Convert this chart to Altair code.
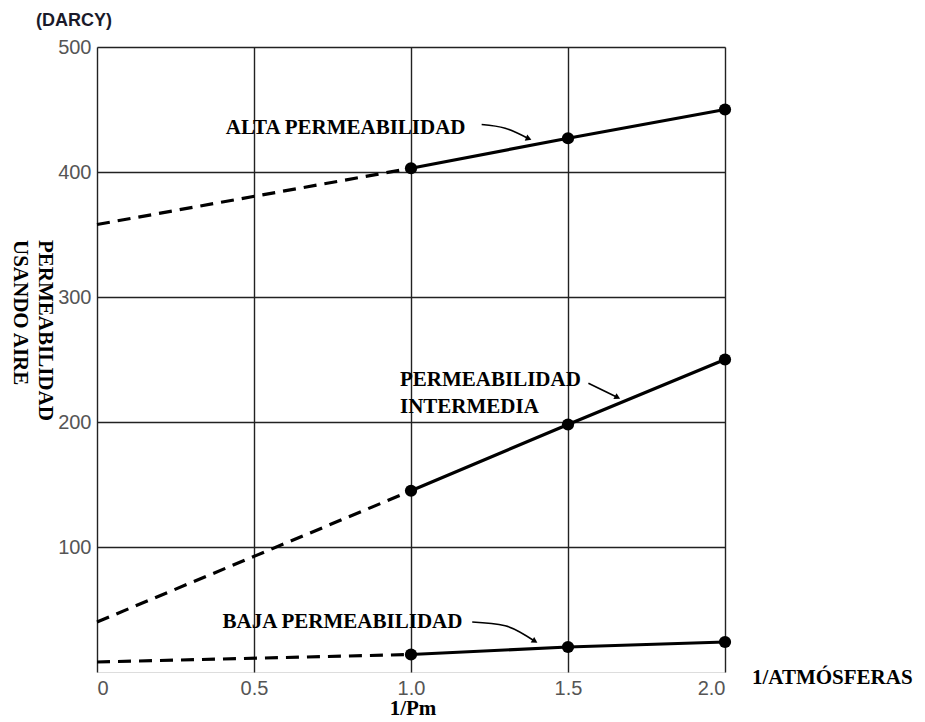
import altair as alt
import pandas as pd

# ---- data ----
x_vals = [0.0, 1.0, 1.5, 2.0]
alta = [358, 403, 427, 450]
intermedia = [40, 145, 198, 250]
baja = [8, 14, 20, 24]
series_names = ["ALTA", "INTERMEDIA", "BAJA"]

rows = []
for name, ys in zip(series_names, [alta, intermedia, baja]):
    # dashed extrapolation segment 0 -> 1.0
    rows.append({"series": name, "seg": "dash", "x": x_vals[0], "y": ys[0]})
    rows.append({"series": name, "seg": "dash", "x": x_vals[1], "y": ys[1]})
    for xv, yv in zip(x_vals[1:], ys[1:]):
        rows.append({"series": name, "seg": "solid", "x": xv, "y": yv})
df = pd.DataFrame(rows)
pts = df[df.seg == "solid"]

# annotation labels (data coordinates)
ann_text = ["ALTA PERMEABILIDAD", "PERMEABILIDAD", "INTERMEDIA", "BAJA PERMEABILIDAD"]
ann_x = [0.41, 0.965, 0.965, 0.40]
ann_y = [435, 234, 212, 40]
ann = pd.DataFrame({"t": ann_text, "x": ann_x, "y": ann_y})

# annotation arrows (data coordinates)
arr_id = ["a", "a", "a", "b", "b", "c", "c", "c"]
arr_x = [1.225, 1.30, 1.372, 1.565, 1.655, 1.195, 1.30, 1.392]
arr_y = [438, 435, 427, 231, 220, 40, 37, 25]
arr = pd.DataFrame({"id": arr_id, "x": arr_x, "y": arr_y, "o": list(range(len(arr_x)))})
head_x = [1.372, 1.655, 1.392]
head_y = [427, 220, 25]
head_angle = [112, 118, 122]
heads = pd.DataFrame({"x": head_x, "y": head_y, "a": head_angle})

tick_font = "Liberation Sans"
serif = "Liberation Serif"

xs = alt.Scale(domain=[0, 2], nice=False)
ys = alt.Scale(domain=[0, 500], nice=False)

x_axis = alt.Axis(values=[0, 0.5, 1.0, 1.5, 2.0], title=None,
                  labelExpr="datum.value == 0 ? '0' : format(datum.value, '.1f')",
                  labelFont=tick_font, labelFontSize=20, labelColor="#555",
                  labelPadding=6, ticks=False, domain=False,
                  gridColor="#222", gridWidth=1.4, gridOpacity=1)
y_axis = alt.Axis(values=[100, 200, 300, 400, 500], title=None,
                  labelFont=tick_font, labelFontSize=20, labelColor="#555",
                  labelPadding=6, ticks=False, domain=False,
                  gridColor="#222", gridWidth=1.4, gridOpacity=1)

base = alt.Chart(df)

grid = alt.Chart(df).mark_point(opacity=0).encode(
    x=alt.X("x:Q", scale=xs, axis=x_axis),
    y=alt.Y("y:Q", scale=ys, axis=y_axis),
)

dashed = base.transform_filter(alt.datum.seg == "dash").mark_line(
    color="black", strokeWidth=3.2, strokeDash=[13, 8]
).encode(x=alt.X("x:Q", scale=xs), y=alt.Y("y:Q", scale=ys), detail="series:N")

solid = base.transform_filter(alt.datum.seg == "solid").mark_line(
    color="black", strokeWidth=3.2
).encode(x=alt.X("x:Q", scale=xs), y=alt.Y("y:Q", scale=ys), detail="series:N")

dots = alt.Chart(pts).mark_circle(color="black", size=150, opacity=1).encode(
    x=alt.X("x:Q", scale=xs), y=alt.Y("y:Q", scale=ys))

labels = alt.Chart(ann).mark_text(
    font=serif, fontWeight="bold", fontSize=21, align="left", baseline="middle", color="black"
).encode(x=alt.X("x:Q", scale=xs), y=alt.Y("y:Q", scale=ys), text="t:N")

arrows = alt.Chart(arr).mark_line(color="black", strokeWidth=1.6, interpolate="monotone").encode(
    x=alt.X("x:Q", scale=xs), y=alt.Y("y:Q", scale=ys), detail="id:N", order="o:Q")

arrowheads = alt.Chart(heads).mark_point(
    shape="triangle", filled=True, color="black", size=45, opacity=1
).encode(x=alt.X("x:Q", scale=xs), y=alt.Y("y:Q", scale=ys),
         angle=alt.Angle("a:Q", scale=None))

# outside text
one = pd.DataFrame({"k": [0]})
darcy = alt.Chart(one).mark_text(
    text="(DARCY)", font=tick_font, fontWeight="bold", fontSize=18, color="#1a1a2a",
    align="center", baseline="middle"
).encode(x=alt.value(-23), y=alt.value(-26))
ytitle1 = alt.Chart(one).mark_text(
    text="PERMEABILIDAD", font=serif, fontWeight="bold", fontSize=21, color="black",
    align="left", baseline="middle", angle=90
).encode(x=alt.value(-52), y=alt.value(193))
ytitle2 = alt.Chart(one).mark_text(
    text="USANDO AIRE", font=serif, fontWeight="bold", fontSize=21, color="black",
    align="left", baseline="middle", angle=90
).encode(x=alt.value(-77), y=alt.value(193))
xtitle1 = alt.Chart(one).mark_text(
    text="1/ATMÓSFERAS", font=serif, fontWeight="bold", fontSize=21, color="black",
    align="left", baseline="middle"
).encode(x=alt.value(655), y=alt.value(631))
xtitle2 = alt.Chart(one).mark_text(
    text="1/Pm", font=serif, fontWeight="bold", fontSize=21, color="black",
    align="center", baseline="middle"
).encode(x=alt.value(316), y=alt.value(662))

chart = alt.layer(
    grid, dashed, solid, dots, arrows, arrowheads, labels,
    darcy, ytitle1, ytitle2, xtitle1, xtitle2
).properties(
    width=628, height=625,
    autosize=alt.AutoSizeParams(type="none"),
    padding={"left": 89, "top": 39, "right": 190, "bottom": 49},
).configure_view(stroke="#777", strokeWidth=2).configure(background="white")

chart.save("out.html", embed_options={"renderer": "svg", "actions": False})
